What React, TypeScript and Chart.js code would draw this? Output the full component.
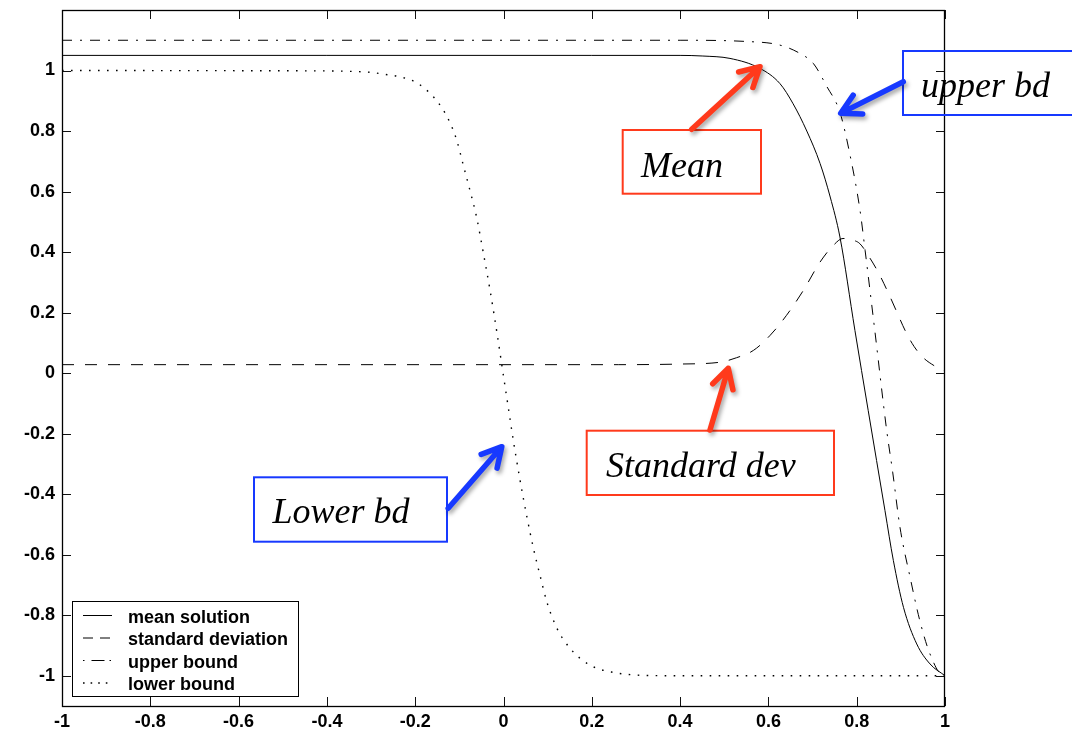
import { useEffect, useRef } from 'react';
import { Chart, registerables } from 'chart.js';

Chart.register(...registerables);

// ---------- data ----------
const xTicks = [-1, -0.8, -0.6, -0.4, -0.2, 0, 0.2, 0.4, 0.6, 0.8, 1];
const yTicks = [-1, -0.8, -0.6, -0.4, -0.2, 0, 0.2, 0.4, 0.6, 0.8, 1];

const seriesLabels = ['mean solution', 'standard deviation', 'upper bound', 'lower bound'];

const meanX = [-1, 0.2, 0.4, 0.45, 0.513, 0.581, 0.626, 0.656, 0.687, 0.717, 0.74, 0.762, 0.796, 0.826, 0.864, 0.883, 0.906, 0.936, 0.966, 1.0];
const meanY = [1.05, 1.05, 1.05, 1.048, 1.04, 1.007, 0.957, 0.89, 0.8, 0.693, 0.582, 0.45, 0.141, -0.123, -0.454, -0.619, -0.774, -0.895, -0.961, -1.0];

const sdX = [-1, 0.26, 0.4, 0.49, 0.528, 0.566, 0.604, 0.641, 0.679, 0.717, 0.747, 0.769, 0.79, 0.807, 0.83, 0.85, 0.87, 0.89, 0.91, 0.93, 0.95, 0.975, 1.0];
const sdY = [0.028, 0.028, 0.03, 0.036, 0.051, 0.075, 0.125, 0.191, 0.273, 0.367, 0.422, 0.445, 0.44, 0.428, 0.38, 0.33, 0.27, 0.205, 0.14, 0.088, 0.052, 0.025, 0.006];

const upperX = [-1, 0.4, 0.55, 0.626, 0.672, 0.702, 0.732, 0.762, 0.785, 0.8075, 0.819, 0.841, 0.868, 0.8815, 0.898, 0.921, 0.943, 0.966, 0.996, 1.0];
const upperY = [1.1, 1.1, 1.096, 1.084, 1.056, 1.023, 0.948, 0.862, 0.72, 0.538, 0.406, 0.141, -0.19, -0.327, -0.509, -0.675, -0.818, -0.928, -0.9997, -1.0];

const lowerX = [-1, -0.46, -0.31, -0.272, -0.234, -0.197, -0.166, -0.14, -0.121, -0.106, -0.091, -0.076, -0.061, -0.046, -0.03, -0.015, 0, 0.011, 0.022, 0.037, 0.053, 0.068, 0.083, 0.098, 0.12, 0.151, 0.196, 0.249, 0.324, 0.4, 1.0];
const lowerY = [1.0, 0.999, 0.995, 0.988, 0.979, 0.96, 0.924, 0.878, 0.827, 0.77, 0.687, 0.604, 0.516, 0.4, 0.27, 0.135, -0.01, -0.115, -0.22, -0.35, -0.475, -0.58, -0.67, -0.755, -0.84, -0.91, -0.965, -0.989, -0.999, -1.0, -1.0];

// ---------- styles ----------
const SANS = "'Liberation Sans', Arial, Helvetica, sans-serif";
const SERIF = "'Liberation Serif', 'Times New Roman', serif";
const RED = '#ff3a1c';
const BLUE = '#1739ff';

const lineDashes = [[], [12, 11], [10, 8, 2, 8], [1.6, 7.4]];
const lineWidths = [1, 1, 1, 1.4];
const legendDashes = [[], [10, 7], [1.5, 7, 13, 5, 1.5, 20], [1.6, 6]];

const toPts = (xs: number[], ys: number[]) => xs.map((x, i) => ({ x, y: ys[i] }));

const fmt = (v: number) => {
  const r = Math.round(v * 10) / 10;
  return r === 0 ? '0' : String(r);
};

const notes = [
  { text: 'Mean', color: RED, box: [622.7, 130, 761, 193.7], tx: 641, ty: 176.5, arrow: [691.7, 129.3, 760, 66.7] },
  { text: 'upper bd', color: BLUE, box: [903, 51, 1080, 115], tx: 921, ty: 96.5, arrow: [903.3, 81.7, 840.7, 113.3] },
  { text: 'Standard dev', color: RED, box: [586.7, 430.7, 834, 495], tx: 606, ty: 476.5, arrow: [710, 430, 728.3, 368.3] },
  { text: 'Lower bd', color: BLUE, box: [254, 477.3, 447, 541.7], tx: 272.5, ty: 523.3, arrow: [448.2, 508.3, 501.8, 446.7] },
];

function drawArrow(ctx: CanvasRenderingContext2D, a: number[], color: string) {
  const [x1, y1, x2, y2] = a;
  const ang = Math.atan2(y2 - y1, x2 - x1);
  const head = 22;
  const spread = 0.5;
  ctx.save();
  ctx.shadowColor = 'rgba(0,0,0,0.35)';
  ctx.shadowBlur = 4;
  ctx.shadowOffsetX = 2;
  ctx.shadowOffsetY = 3;
  ctx.strokeStyle = color;
  ctx.lineWidth = 5.5;
  ctx.lineCap = 'round';
  ctx.lineJoin = 'round';
  ctx.beginPath();
  ctx.moveTo(x1, y1);
  ctx.lineTo(x2 - 2 * Math.cos(ang), y2 - 2 * Math.sin(ang));
  ctx.moveTo(x2 - head * Math.cos(ang - spread), y2 - head * Math.sin(ang - spread));
  ctx.lineTo(x2, y2);
  ctx.lineTo(x2 - head * Math.cos(ang + spread), y2 - head * Math.sin(ang + spread));
  ctx.stroke();
  ctx.restore();
}

const TICK = 9;

const framePlugin = {
  id: 'frameTicks',
  afterDatasetsDraw(chart: any) {
    const { ctx, chartArea: a, scales } = chart;
    const xs = scales.x;
    const ys = scales.y;
    ctx.save();
    ctx.strokeStyle = '#111';
    ctx.lineWidth = 1;
    ctx.beginPath();
    xs.ticks.forEach((t: any) => {
      const px = Math.round(xs.getPixelForValue(t.value)) + 0.5;
      ctx.moveTo(px, a.bottom);
      ctx.lineTo(px, a.bottom - TICK);
      ctx.moveTo(px, a.top);
      ctx.lineTo(px, a.top + TICK);
    });
    ys.ticks.forEach((t: any) => {
      const py = Math.round(ys.getPixelForValue(t.value)) + 0.5;
      ctx.moveTo(a.left, py);
      ctx.lineTo(a.left + TICK, py);
      ctx.moveTo(a.right, py);
      ctx.lineTo(a.right - TICK, py);
    });
    ctx.stroke();
    ctx.strokeStyle = '#000';
    ctx.lineWidth = 1.3;
    ctx.strokeRect(a.left + 0.5, a.top + 0.5, a.right - a.left - 1, a.bottom - a.top);
    ctx.restore();
  },
  afterDraw(chart: any) {
    const { ctx, chartArea: a } = chart;
    // legend
    const L = { left: a.left + 10, top: a.bottom - 105, w: 226, h: 95 };
    ctx.save();
    ctx.fillStyle = '#fff';
    ctx.fillRect(L.left, L.top, L.w, L.h);
    ctx.strokeStyle = '#000';
    ctx.lineWidth = 1;
    ctx.strokeRect(L.left + 0.5, L.top + 0.5, L.w, L.h);
    const rows = [14.5, 37, 59.5, 82];
    seriesLabels.forEach((lab, i) => {
      const y = L.top + rows[i];
      ctx.save();
      ctx.strokeStyle = '#000';
      ctx.lineWidth = lineWidths[i];
      ctx.setLineDash(legendDashes[i]);
      ctx.beginPath();
      ctx.moveTo(L.left + 11, y);
      ctx.lineTo(L.left + 40, y);
      ctx.stroke();
      ctx.restore();
      ctx.fillStyle = '#000';
      ctx.font = `bold 18px ${SANS}`;
      ctx.textAlign = 'left';
      ctx.textBaseline = 'alphabetic';
      ctx.fillText(lab, L.left + 56, y + 7);
    });
    ctx.restore();

    // annotations
    notes.forEach((n) => {
      ctx.save();
      ctx.strokeStyle = n.color;
      ctx.lineWidth = 2;
      const [bx1, by1, bx2, by2] = n.box;
      ctx.strokeRect(bx1, by1, bx2 - bx1, by2 - by1);
      ctx.fillStyle = '#000';
      ctx.font = `italic 36px ${SERIF}`;
      ctx.textAlign = 'left';
      ctx.textBaseline = 'alphabetic';
      ctx.fillText(n.text, n.tx, n.ty);
      ctx.restore();
      drawArrow(ctx, n.arrow, n.color);
    });
  },
};

export default function App() {
  const ref = useRef<HTMLCanvasElement>(null);
  useEffect(() => {
    const sets = [toPts(meanX, meanY), toPts(sdX, sdY), toPts(upperX, upperY), toPts(lowerX, lowerY)];
    const chart = new Chart(ref.current!, {
      type: 'line',
      data: {
        datasets: sets.map((d, i) => ({
          label: seriesLabels[i],
          data: d,
          borderColor: '#000',
          borderWidth: lineWidths[i],
          borderDash: lineDashes[i],
          pointRadius: 0,
          fill: false,
          cubicInterpolationMode: 'monotone' as const,
        })),
      },
      options: {
        animation: false,
        responsive: false,
        layout: { padding: { top: 10, right: 127, left: 0, bottom: 0 } },
        plugins: { legend: { display: false }, tooltip: { enabled: false } },
        events: [],
        scales: {
          x: {
            type: 'linear',
            min: -1,
            max: 1,
            afterBuildTicks: (s: any) => {
              s.ticks = xTicks.map((v) => ({ value: v }));
            },
            afterFit: (s: any) => {
              s.height = 27;
              s.paddingLeft = 0;
              s.paddingRight = 0;
            },
            grid: { display: false, drawTicks: false },
            border: { display: false },
            ticks: {
              autoSkip: false,
              maxRotation: 0,
              padding: 5,
              color: '#000',
              font: { family: SANS, size: 18, weight: 'bold' },
              callback: (v: any) => fmt(Number(v)),
            },
          },
          y: {
            type: 'linear',
            min: -1.1,
            max: 1.2,
            afterBuildTicks: (s: any) => {
              s.ticks = yTicks.map((v) => ({ value: v }));
            },
            afterFit: (s: any) => {
              s.width = 62;
              s.paddingTop = 0;
              s.paddingBottom = 0;
            },
            grid: { display: false, drawTicks: false },
            border: { display: false },
            ticks: {
              autoSkip: false,
              padding: 7,
              color: '#000',
              font: { family: SANS, size: 18, weight: 'bold' },
              callback: (v: any) => fmt(Number(v)),
            },
          },
        },
      },
      plugins: [framePlugin],
    });
    return () => chart.destroy();
  }, []);
  return (
    <div style={{ position: 'fixed', left: 0, top: 0, width: 1072, height: 733, background: '#fff' }}>
      <canvas ref={ref} width={1072} height={733} style={{ display: 'block', width: 1072, height: 733 }} />
    </div>
  );
}
